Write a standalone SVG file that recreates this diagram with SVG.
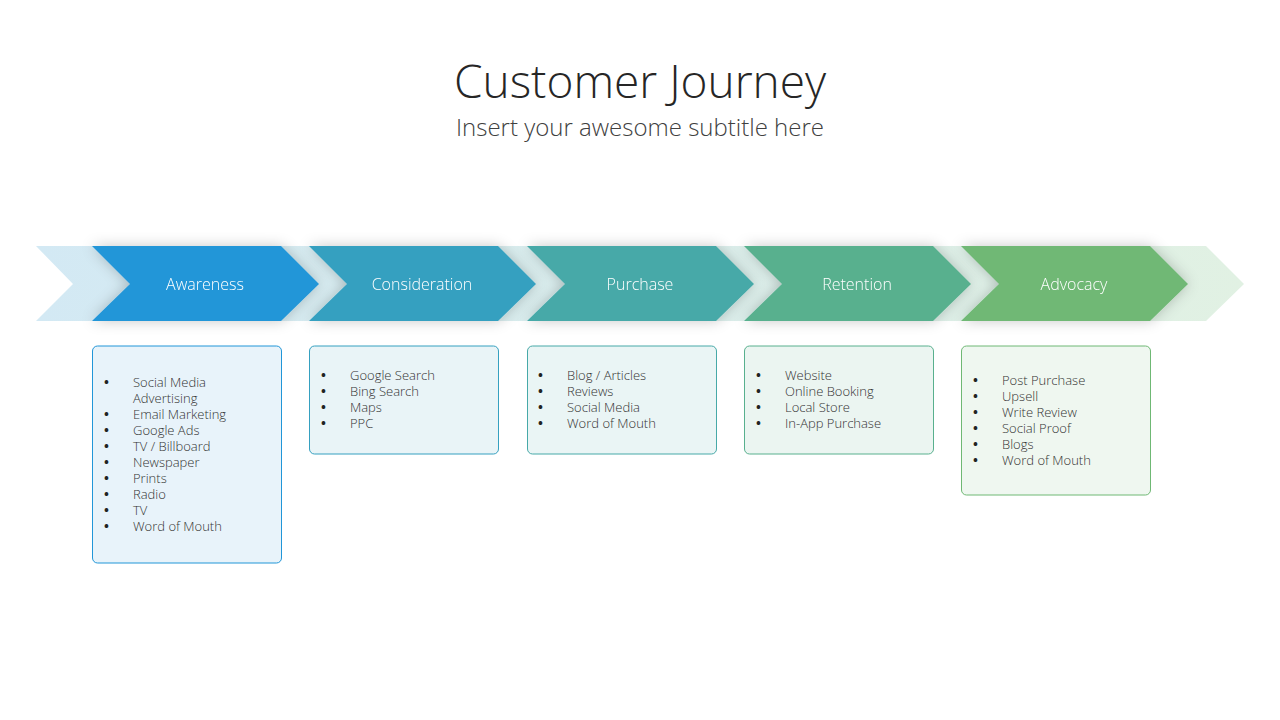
<svg xmlns="http://www.w3.org/2000/svg" width="1280" height="720" viewBox="0 0 1280 720">
<style>
text{font-family:"Open Sans","Noto Sans",sans-serif}
.t{font-size:46px;font-weight:300;fill:#262626}
.s{font-size:24px;font-weight:300;fill:#404040}
.l{font-size:16px;fill:#fff;font-weight:300;text-anchor:middle}
.b{font-size:13px;fill:#333;font-weight:300}
.b text:nth-child(odd){font-weight:700;fill:#222}
</style>
<defs>
<linearGradient id="bg" x1="0" x2="1"><stop offset="0" stop-color="#D3E9F4"/><stop offset="1" stop-color="#E1F1E3"/></linearGradient>
<filter id="sh" x="-20%" y="-50%" width="140%" height="200%"><feDropShadow dx="0" dy="0" stdDeviation="7" flood-color="#000" flood-opacity="0.22"/></filter>
</defs>
<rect width="1280" height="720" fill="#fff"/>
<text class="t" x="640" y="98" text-anchor="middle">Customer Journey</text>
<text class="s" x="640" y="136" text-anchor="middle">Insert your awesome subtitle here</text>
<polygon points="36,246 1206,246 1244,284 1206,321 36,321 73,284" fill="url(#bg)"/>
<g id="awareness" filter="url(#sh)"><polygon points="92,246 281,246 319,284 281,321 92,321 130,284" fill="#2196D8"/><text class="l" x="205" y="290">Awareness</text></g>
<g id="consideration" filter="url(#sh)"><polygon points="309,246 498,246 536,284 498,321 309,321 347,284" fill="#35A0C0"/><text class="l" x="422" y="290">Consideration</text></g>
<g id="purchase" filter="url(#sh)"><polygon points="527,246 716,246 754,284 716,321 527,321 565,284" fill="#47A9A8"/><text class="l" x="640" y="290">Purchase</text></g>
<g id="retention" filter="url(#sh)"><polygon points="744,246 933,246 971,284 933,321 744,321 782,284" fill="#58B08E"/><text class="l" x="857" y="290">Retention</text></g>
<g id="advocacy" filter="url(#sh)"><polygon points="961,246 1150,246 1188,284 1150,321 961,321 999,284" fill="#6FB874"/><text class="l" x="1074" y="290">Advocacy</text></g>
<g id="connectors"/>
<g id="box-awareness">
<rect x="92.5" y="346" width="189" height="217" rx="5" fill="#E8F3FA" stroke="#2196D8"/>
<g class="b"><text x="104" y="387">•</text><text x="133" y="387">Social Media</text><text x="133" y="403" style="font-weight:300;fill:#333">Advertising</text><text x="133" y="403"></text>
<text x="104" y="419">•</text><text x="133" y="419">Email Marketing</text>
<text x="104" y="435">•</text><text x="133" y="435">Google Ads</text>
<text x="104" y="451">•</text><text x="133" y="451">TV / Billboard</text>
<text x="104" y="467">•</text><text x="133" y="467">Newspaper</text>
<text x="104" y="483">•</text><text x="133" y="483">Prints</text>
<text x="104" y="499">•</text><text x="133" y="499">Radio</text>
<text x="104" y="515">•</text><text x="133" y="515">TV</text>
<text x="104" y="531">•</text><text x="133" y="531">Word of Mouth</text></g>
</g>
<g id="box-consideration">
<rect x="309.5" y="346" width="189" height="108" rx="5" fill="#E9F4F7" stroke="#35A0C0"/>
<g class="b"><text x="321" y="380">•</text><text x="350" y="380">Google Search</text>
<text x="321" y="396">•</text><text x="350" y="396">Bing Search</text>
<text x="321" y="412">•</text><text x="350" y="412">Maps</text>
<text x="321" y="428">•</text><text x="350" y="428">PPC</text></g>
</g>
<g id="box-purchase">
<rect x="527.5" y="346" width="189" height="108" rx="5" fill="#EAF5F5" stroke="#47A9A8"/>
<g class="b"><text x="538" y="380">•</text><text x="567" y="380">Blog / Articles</text>
<text x="538" y="396">•</text><text x="567" y="396">Reviews</text>
<text x="538" y="412">•</text><text x="567" y="412">Social Media</text>
<text x="538" y="428">•</text><text x="567" y="428">Word of Mouth</text></g>
</g>
<g id="box-retention">
<rect x="744.5" y="346" width="189" height="108" rx="5" fill="#EBF5F1" stroke="#58B08E"/>
<g class="b"><text x="756" y="380">•</text><text x="785" y="380">Website</text>
<text x="756" y="396">•</text><text x="785" y="396">Online Booking</text>
<text x="756" y="412">•</text><text x="785" y="412">Local Store</text>
<text x="756" y="428">•</text><text x="785" y="428">In-App Purchase</text></g>
</g>
<g id="box-advocacy">
<rect x="961.5" y="346" width="189" height="149" rx="5" fill="#EFF7F0" stroke="#6FB874"/>
<g class="b"><text x="973" y="385">•</text><text x="1002" y="385">Post Purchase</text>
<text x="973" y="401">•</text><text x="1002" y="401">Upsell</text>
<text x="973" y="417">•</text><text x="1002" y="417">Write Review</text>
<text x="973" y="433">•</text><text x="1002" y="433">Social Proof</text>
<text x="973" y="449">•</text><text x="1002" y="449">Blogs</text>
<text x="973" y="465">•</text><text x="1002" y="465">Word of Mouth</text></g>
</g>
</svg>
